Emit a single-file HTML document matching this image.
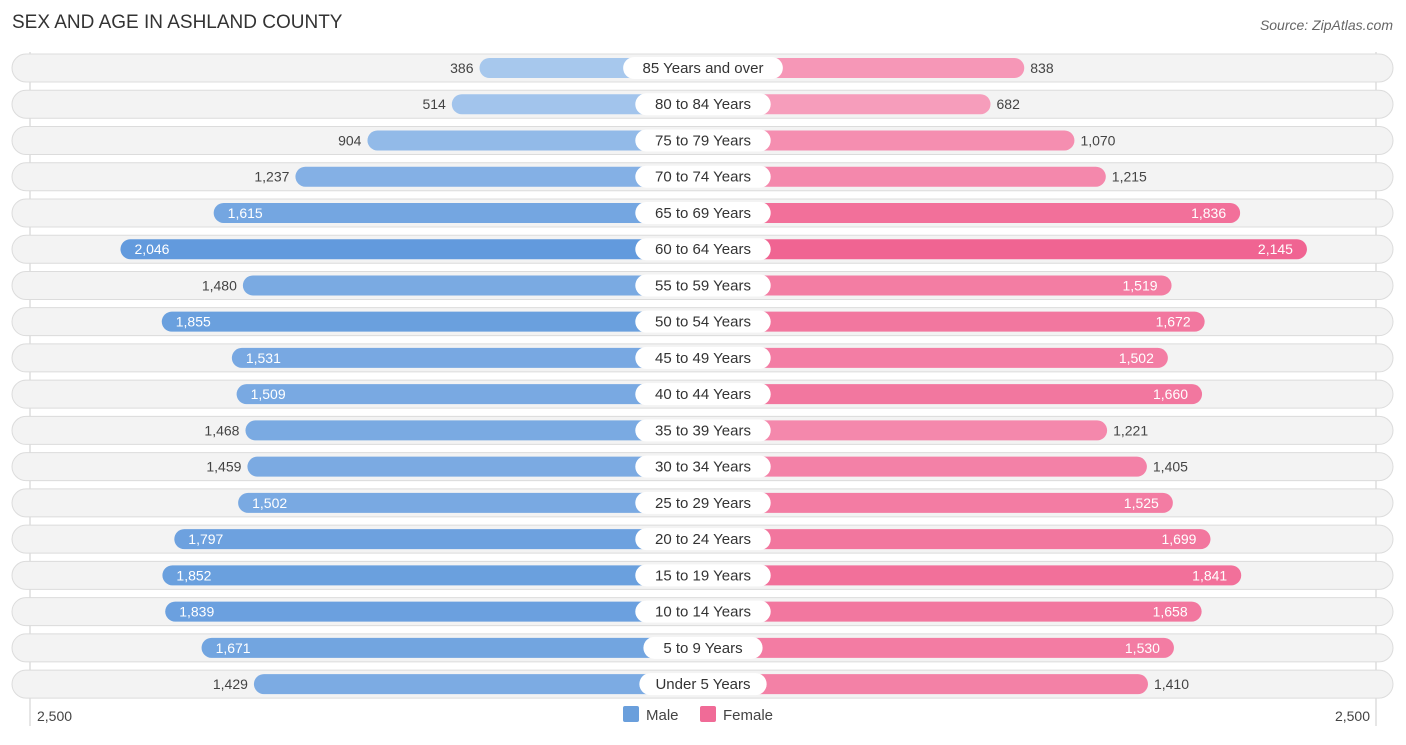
<!DOCTYPE html>
<html><head><meta charset="utf-8"><style>
body{margin:0;background:#fff;font-family:"Liberation Sans",sans-serif;}
svg text{font-family:"Liberation Sans",sans-serif;}
</style></head><body>
<svg id="c" width="1406" height="740">
<text x="12" y="28" font-size="19" fill="#333">SEX AND AGE IN ASHLAND COUNTY</text>
<text x="1393" y="30" font-size="14" fill="#666" font-style="italic" text-anchor="end">Source: ZipAtlas.com</text>
<line x1="30" y1="52" x2="30" y2="726" stroke="#ccc"/>
<line x1="1376" y1="52" x2="1376" y2="726" stroke="#ccc"/>
<g id="rows"></g>
<text x="37" y="721" font-size="14" fill="#444">2,500</text>
<text x="1370" y="721" font-size="14" fill="#444" text-anchor="end">2,500</text>
<rect x="623" y="706" width="16" height="16" rx="2" fill="#6a9fdc"/>
<text x="646" y="720" font-size="15" fill="#444">Male</text>
<rect x="700" y="706" width="16" height="16" rx="2" fill="#f06b97"/>
<text x="723" y="720" font-size="15" fill="#444">Female</text>
</svg>
<script>
const categories=["85 Years and over","80 to 84 Years","75 to 79 Years","70 to 74 Years","65 to 69 Years","60 to 64 Years","55 to 59 Years","50 to 54 Years","45 to 49 Years","40 to 44 Years","35 to 39 Years","30 to 34 Years","25 to 29 Years","20 to 24 Years","15 to 19 Years","10 to 14 Years","5 to 9 Years","Under 5 Years"];
const maleValues=[386,514,904,1237,1615,2046,1480,1855,1531,1509,1468,1459,1502,1797,1852,1839,1671,1429];
const femaleValues=[838,682,1070,1215,1836,2145,1519,1672,1502,1660,1221,1405,1525,1699,1841,1658,1530,1410];
const NS="http://www.w3.org/2000/svg";
const cx=703, base=140, k=0.2163;
function len(v){return base+k*v;}
function rowY(i){return 68+i*36.24;}
function mix(a,b,t){return "rgb("+a.map((x,j)=>Math.round(x+(b[j]-x)*t)).join(",")+")";}
function fmt(v){return v.toLocaleString("en-US");}
const g=document.getElementById("rows");
function el(tag,attrs){const e=document.createElementNS(NS,tag);for(const a in attrs)e.setAttribute(a,attrs[a]);g.appendChild(e);return e;}
categories.forEach((cat,i)=>{
  const y=rowY(i);
  const bg=el("rect",{x:12,y:y-14,width:1381,height:28,rx:14,fill:"#f3f3f3",stroke:"#dcdcdc"});
  
  
  const m=maleValues[i], f=femaleValues[i];
  const tm=Math.min(1,Math.max(0,(m-300)/1800)), tf=Math.min(1,Math.max(0,(f-300)/1900));
  const ml=len(m), fl=len(f);
  const mb=el("rect",{x:cx-ml,y:y-10,width:ml,height:20,rx:10,fill:mix([171,202,238],[96,153,220],tm)});
  
  
  const fb=el("rect",{x:cx,y:y-10,width:fl,height:20,rx:10,fill:mix([248,172,198],[240,98,144],tf)});
  
  
  const inM=m>=1500, inF=f>=1500;
  const mt=el("text",{x:inM?cx-ml+14:cx-ml-6,y:y+5,"font-size":14,fill:inM?"#fff":"#444","text-anchor":inM?"start":"end"});
  mt.textContent=fmt(m);
  
  
  const ft=el("text",{x:inF?cx+fl-14:cx+fl+6,y:y+5,"font-size":14,fill:inF?"#fff":"#444","text-anchor":inF?"end":"start"});
  ft.textContent=fmt(f);
  
  
  const w=cat.length*8.1+22;
  const lp=el("rect",{x:cx-w/2,y:y-11,width:w,height:22,rx:11,fill:"#fff"});
  
  
  const lt=el("text",{x:cx,y:y+5,"font-size":15,fill:"#333","text-anchor":"middle"});
  lt.textContent=cat;
  
  
});
</script>
</body></html>
